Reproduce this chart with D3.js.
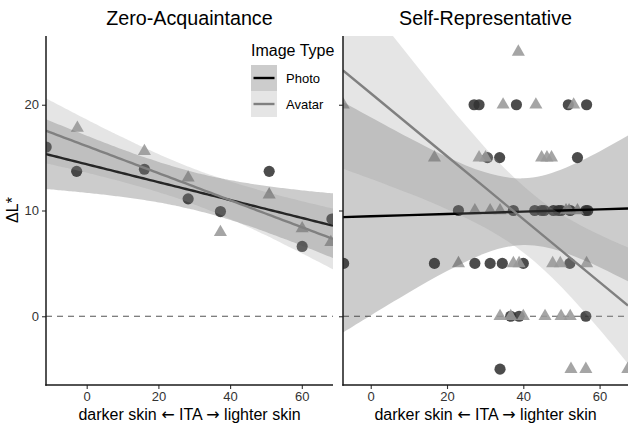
<!DOCTYPE html>
<html>
<head>
<meta charset="utf-8">
<script src="https://cdn.jsdelivr.net/npm/d3@7"></script>
<style>
    body { margin: 0; background: #fff; }
    svg text { font-family: "Liberation Sans", Arial, Helvetica, sans-serif; }
</style>
</head>
<body>
<div id="chart"></div>
<script>

// values: ITA (deg) and delta L*
const panelTitles = ["Zero-Acquaintance", "Self-Representative"];
const imageTypes = ["Photo", "Avatar"];
const xTicks = [0, 20, 40, 60];
const yTicks = [0, 10, 20];

const zeroPhotoITA = [-11.3, -2.8, 16.1, 28.3, 37.3, 50.9, 60.1, 68.4];
const zeroPhotoDL  = [16.0, 13.7, 13.9, 11.1, 9.9, 13.7, 6.6, 9.2];
const zeroAvatarITA = [-13.5, -2.6, 16.1, 28.3, 37.3, 50.9, 60.1, 68.1];
const zeroAvatarDL  = [16.2, 17.8, 15.6, 13.1, 7.95, 11.5, 8.3, 7.0];

const selfPhotoITA = [27.1, 28.4, 38.2, 51.8, 56.6,
    30.6, 33.8, 54.2,
    23.0, 37.4, 43.0, 44.8, 45.5, 47.9, 49.2, 49.9, 52.3, 56.4, 56.9,
    -7.1, 16.7, 27.3, 31.3, 34.5, 40.0, 52.2,
    36.7, 38.9, 56.4,
    33.9];
const selfPhotoDL = [20, 20, 20, 20, 20,
    15, 15, 15,
    10, 10, 10, 10, 10, 10, 10, 10, 10, 10, 10,
    5, 5, 5, 5, 5, 5, 5,
    0, 0, 0,
    -5];
const selfAvatarITA = [38.7,
    -7.2, 34.7, 43.3, 53.2,
    16.7, 28.4, 30.1, 44.8, 46.2, 47.4,
    27.3, 31.3, 33.9, 51.2, 52.0, 54.2,
    23.0, 37.4, 38.9, 47.7, 49.7, 56.6,
    33.9, 36.7, 40.0, 45.7, 49.9, 52.3,
    52.5, 56.4, 67.4];
const selfAvatarDL = [25,
    20, 20, 20, 20,
    15, 15, 15, 15, 15, 15,
    10, 10, 10, 10, 10, 10,
    5, 5, 5, 5, 5, 5,
    0, 0, 0, 0, 0, 0,
    -5, -5, -5];

// the self-representative smooths can't be rebuilt from the overplotted points,
// so the fitted line and its 95% band are read off the figure at these ITA values
const selfSmoothITA = [-7.27, 0, 10, 20, 30, 40, 50, 60, 67.45];
const selfPhotoFit = [9.37, 9.45, 9.56, 9.67, 9.78, 9.89, 10.0, 10.11, 10.19];
const selfPhotoLo  = [-1.53, 0.08, 2.24, 4.27, 5.95, 6.74, 6.12, 4.64, 3.30];
const selfPhotoHi  = [20.27, 18.82, 16.88, 15.07, 13.61, 13.04, 13.88, 15.58, 17.08];
const selfAvatarFit = [23.25, 21.09, 18.11, 15.13, 12.16, 9.18, 6.20, 3.23, 1.01];
const selfAvatarLo  = [13.95, 13.0, 11.62, 10.13, 8.38, 6.04, 2.77, -1.25, -4.49];
const selfAvatarHi  = [32.55, 29.18, 24.6, 20.13, 15.94, 12.32, 9.63, 7.71, 6.51];

const pointColor = {Photo: "#333333", Avatar: "#999999"};
const lineColor = {Photo: "#000000", Avatar: "#808080"};
const fillColor = {Photo: "#333333", Avatar: "#999999"};

// two sided 95% t quantile (Cornish-Fisher expansion)
function tQuantile(df) {
    let z = 1.959964;
    let g1 = (Math.pow(z, 3) + z) / 4;
    let g2 = (5 * Math.pow(z, 5) + 16 * Math.pow(z, 3) + 3 * z) / 96;
    let g3 = (3 * Math.pow(z, 7) + 19 * Math.pow(z, 5) + 17 * Math.pow(z, 3) - 15 * z) / 384;
    return z + g1 / df + g2 / (df * df) + g3 / (df * df * df);
}

// linear fit with confidence band, like geom_smooth(method = "lm", fullrange = TRUE)
function lmFit(xs, ys, domain) {
    let n = xs.length;
    let mx = d3.mean(xs), my = d3.mean(ys);
    let sxx = d3.sum(xs, x => (x - mx) ** 2);
    let sxy = d3.sum(xs, (x, i) => (x - mx) * (ys[i] - my));
    let b = sxy / sxx, a = my - b * mx;
    let rss = d3.sum(xs, (x, i) => (ys[i] - a - b * x) ** 2);
    let s = Math.sqrt(rss / (n - 2));
    let t = tQuantile(n - 2);
    return d3.range(81).map(i => {
        let x = domain[0] + (domain[1] - domain[0]) * i / 80;
        let yhat = a + b * x;
        let se = s * Math.sqrt(1 / n + (x - mx) ** 2 / sxx);
        return {x: x, y: yhat, lo: yhat - t * se, hi: yhat + t * se};
    });
}

class PanelVis {
    constructor(svg, config) {
        this.svg = svg;
        this.config = config;
        this.initVis();
    }

    initVis() {
        let vis = this;
        let c = vis.config;

        vis.x = d3.scaleLinear().domain(c.xDomain).range([c.left, c.right]);
        vis.y = d3.scaleLinear().domain([-6.5, 26.5]).range([385, 36]);

        vis.svg.append("clipPath")
            .attr("id", "clip" + c.id)
            .append("rect")
            .attr("x", c.left)
            .attr("y", 36)
            .attr("width", c.right - c.left)
            .attr("height", 385 - 36);

        vis.plot = vis.svg.append("g")
            .attr("clip-path", "url(#clip" + c.id + ")");

        // zero reference
        vis.plot.append("line")
            .attr("x1", c.left)
            .attr("x2", c.right)
            .attr("y1", vis.y(0))
            .attr("y2", vis.y(0))
            .attr("stroke", "#555")
            .attr("stroke-width", 1.2)
            .attr("stroke-dasharray", "6,5");

        vis.wrangleData();
    }

    wrangleData() {
        let vis = this;
        let c = vis.config;

        vis.groups = imageTypes.map((type, k) => {
            let xs = c.series[k][0], ys = c.series[k][1];
            let fit;
            if (c.smooth) {
                let sm = c.smooth[k];
                fit = c.smoothX.map((x, i) => ({x: x, y: sm[0][i], lo: sm[1][i], hi: sm[2][i]}));
            } else {
                fit = lmFit(xs, ys, c.xDomain);
            }
            return {
                type: type,
                points: xs.map((x, i) => ({x: x, y: ys[i]})),
                fit: fit
            };
        });

        vis.updateVis();
    }

    updateVis() {
        let vis = this;
        let c = vis.config;

        // points first, smooths on top (same order as the ggplot layers)
        vis.plot.selectAll(".pt-photo")
            .data(vis.groups[0].points)
            .join("path")
            .attr("class", "pt-photo")
            .attr("d", d3.symbol().type(d3.symbolCircle).size(98))
            .attr("transform", d => `translate(${vis.x(d.x)},${vis.y(d.y)})`)
            .attr("fill", pointColor.Photo)
            .attr("fill-opacity", 0.88);

        vis.plot.selectAll(".pt-avatar")
            .data(vis.groups[1].points)
            .join("path")
            .attr("class", "pt-avatar")
            .attr("d", d3.symbol().type(d3.symbolTriangle).size(74))
            .attr("transform", d => `translate(${vis.x(d.x)},${vis.y(d.y)})`)
            .attr("fill", pointColor.Avatar)
            .attr("fill-opacity", 0.88);

        let area = d3.area()
            .curve(d3.curveNatural)
            .x(d => vis.x(d.x))
            .y0(d => vis.y(d.lo))
            .y1(d => vis.y(d.hi));

        let line = d3.line()
            .x(d => vis.x(d.x))
            .y(d => vis.y(d.y));

        vis.groups.forEach(g => {
            vis.plot.append("path")
                .datum(g.fit)
                .attr("d", area)
                .attr("fill", fillColor[g.type])
                .attr("fill-opacity", 0.25);
            vis.plot.append("path")
                .datum(g.fit)
                .attr("d", line)
                .attr("fill", "none")
                .attr("stroke", lineColor[g.type])
                .attr("stroke-width", 2.4);
        });

        // axes
        let xAxis = d3.axisBottom(vis.x).tickValues(xTicks).tickSize(4).tickPadding(3);
        let yAxis = d3.axisLeft(vis.y).tickValues(yTicks).tickSize(4).tickPadding(3);
        if (!c.yLabels) yAxis.tickFormat("");

        let xg = vis.svg.append("g")
            .attr("transform", "translate(0,385)")
            .call(xAxis);
        let yg = vis.svg.append("g")
            .attr("transform", `translate(${c.left},0)`)
            .call(yAxis);

        [xg, yg].forEach(g => {
            g.select(".domain").remove();
            g.selectAll(".tick line").attr("stroke", "#333").attr("stroke-width", 1.1);
            g.selectAll(".tick text").attr("fill", "#333").style("font-size", "13px");
        });

        vis.svg.append("line")
            .attr("x1", c.left).attr("x2", c.left)
            .attr("y1", 36).attr("y2", 385.7)
            .attr("stroke", "#1a1a1a").attr("stroke-width", 1.5);
        vis.svg.append("line")
            .attr("x1", c.left - 0.7).attr("x2", c.right)
            .attr("y1", 385).attr("y2", 385)
            .attr("stroke", "#1a1a1a").attr("stroke-width", 1.5);

        // titles
        vis.svg.append("text")
            .attr("x", (c.left + c.right) / 2)
            .attr("y", 25)
            .attr("text-anchor", "middle")
            .style("font-size", "19.7px")
            .text(c.title);

        let xt = vis.svg.append("text")
            .attr("x", (c.left + c.right) / 2)
            .attr("y", 420)
            .attr("text-anchor", "middle")
            .style("font-size", "16px");
        xt.append("tspan").text("darker skin ");
        xt.append("tspan").style("font-family", "'DejaVu Sans'").text("\u2190");
        xt.append("tspan").text(" ITA ");
        xt.append("tspan").style("font-family", "'DejaVu Sans'").text("\u2192");
        xt.append("tspan").text(" lighter skin");
    }
}

let svg = d3.select("#chart").append("svg")
    .attr("width", 628)
    .attr("height", 425);

new PanelVis(svg, {
    id: 0, title: panelTitles[0], left: 46, right: 333,
    xDomain: [-11.35, 68.7], yLabels: true,
    series: [[zeroPhotoITA, zeroPhotoDL], [zeroAvatarITA, zeroAvatarDL]]
});
new PanelVis(svg, {
    id: 1, title: panelTitles[1], left: 343, right: 628,
    xDomain: [-7.27, 67.45], yLabels: false,
    series: [[selfPhotoITA, selfPhotoDL], [selfAvatarITA, selfAvatarDL]],
    smoothX: selfSmoothITA,
    smooth: [[selfPhotoFit, selfPhotoLo, selfPhotoHi], [selfAvatarFit, selfAvatarLo, selfAvatarHi]]
});

// y axis title
svg.append("text")
    .attr("transform", "translate(18,210) rotate(-90)")
    .attr("text-anchor", "middle")
    .style("font-size", "16px")
    .text("\u0394L*");

// legend
let legend = svg.append("g").attr("transform", "translate(251,0)");
legend.append("text")
    .attr("x", 0).attr("y", 56)
    .style("font-size", "16px")
    .text("Image Type");

imageTypes.forEach((type, i) => {
    let top = 65 + i * 26;
    legend.append("rect")
        .attr("x", 0).attr("y", top)
        .attr("width", 26).attr("height", 26)
        .attr("fill", "#fff");
    legend.append("rect")
        .attr("x", 0).attr("y", top)
        .attr("width", 26).attr("height", 26)
        .attr("fill", fillColor[type])
        .attr("fill-opacity", 0.25);
    legend.append("line")
        .attr("x1", 2.5).attr("x2", 23.5)
        .attr("y1", top + 13).attr("y2", top + 13)
        .attr("stroke", lineColor[type])
        .attr("stroke-width", 2.4);
    legend.append("text")
        .attr("x", 35).attr("y", top + 18)
        .style("font-size", "13px")
        .text(type);
});

</script>
</body>
</html>
